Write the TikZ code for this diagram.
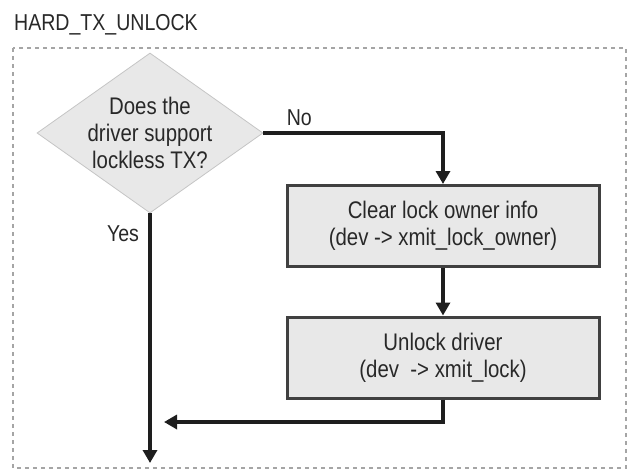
\documentclass[tikz,border=0pt]{standalone}
\usepackage{fontspec}
\setmainfont[FakeStretch=0.85]{Liberation Sans}
\usetikzlibrary{positioning,arrows.meta,calc,shapes.geometric}
\usepackage{xcolor}
\definecolor{stepfill}{RGB}{232,232,232}
\definecolor{linedark}{RGB}{30,30,30}
\definecolor{textdark}{RGB}{40,40,40}
\definecolor{framegray}{RGB}{165,165,165}

\begin{document}
\begin{tikzpicture}[x=1pt, y=-1pt,
    decision/.style={diamond, fill=stepfill, draw=stepfill!85!black, line width=0.8pt,
                     minimum width=226pt, minimum height=160pt, aspect=1.41,
                     inner sep=-12pt, align=center, text=textdark,
                     font=\fontsize{24}{27}\selectfont},
    action/.style={draw=linedark!85, line width=3pt, fill=stepfill, minimum width=312pt,
                   minimum height=81pt, align=center, text=textdark,
                   font=\fontsize{24}{27}\selectfont},
    flow/.style={-{Triangle[length=13pt, width=14pt]}, line width=3.5pt, draw=linedark},
    lab/.style={text=textdark, font=\fontsize{23}{27}\selectfont}
]
    \useasboundingbox (0,0) rectangle (633,472);

    % Outer frame with its title
    \draw[framegray, dash pattern=on 4pt off 4pt, line width=1.5pt] (13,48) rectangle (626,468);
    \node[lab, anchor=west, inner sep=0pt] (title) at (14,25) {HARD\_TX\_UNLOCK};

    % Decision and the two steps
    \node[decision] (lockless) at (150,133) {Does the\\driver support\\lockless TX?};
    \node[action] (clearowner) at (443,226) {Clear lock owner info\\(dev -> xmit\_lock\_owner)};
    \node[action] (unlockdrv)  at (443,357.5) {Unlock driver\\(dev \ -> xmit\_lock)};

    \coordinate (join) at (164,422);
    \coordinate (exit) at (150,463);

    \draw[flow] (lockless.east) -| node[lab, pos=0.1, above=2pt] {No} (clearowner.north);
    \draw[flow] (clearowner) -- (unlockdrv);
    \draw[flow] (unlockdrv.south) |- (join);
    \draw[flow] (lockless.south) -- node[lab, pos=0.08, left=6pt] {Yes} (exit);
\end{tikzpicture}
\end{document}
